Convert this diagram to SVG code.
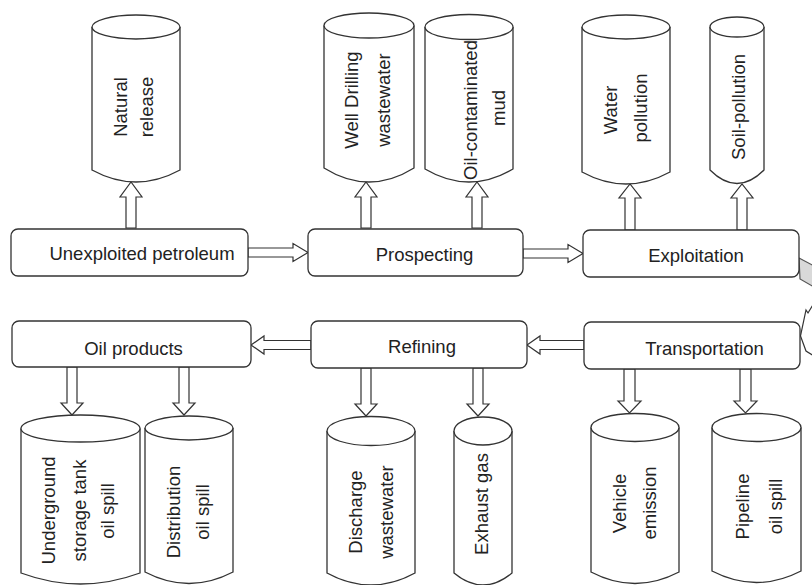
<svg xmlns="http://www.w3.org/2000/svg" width="812" height="585" viewBox="0 0 812 585">
<style>
.box{fill:#fff;stroke:#333;stroke-width:1.3}
.cyl{fill:#fff;stroke:#333;stroke-width:1.3}
.arr{fill:#fff;stroke:#333;stroke-width:1.2;stroke-linejoin:miter}
.t{font-family:"Liberation Sans",Arial,sans-serif;font-size:18.5px;fill:#222;text-anchor:middle}
</style>
<rect width="812" height="585" fill="#fff"/>
<g id="connectors">
<!-- horizontal arrows -->
<polygon class="arr" points="248,248 293,248 293,243.5 308,252.5 293,261.5 293,257 248,257"/>
<polygon class="arr" points="523,249 568,249 568,244.5 583,253.5 568,262.5 568,258 523,258"/>
<polygon class="arr" points="584,340.5 540,340.5 540,336 527,345 540,354 540,349.5 584,349.5"/>
<polygon class="arr" points="311,340.5 264,340.5 264,336 251,345 264,354 264,349.5 311,349.5"/>
<!-- up arrows -->
<polygon class="arr" points="126,228 126,197 120,197 131,182 142,197 136,197 136,228"/>
<polygon class="arr" points="361,228 361,197 355,197 366,182 377,197 371,197 371,228"/>
<polygon class="arr" points="472,228 472,197 466,197 477,182 488,197 482,197 482,228"/>
<polygon class="arr" points="625,230 625,198 619,198 630,184 641,198 635,198 635,230"/>
<polygon class="arr" points="737,230 737,198 731,198 742,184 753,198 747,198 747,230"/>
<!-- down arrows -->
<polygon class="arr" points="67,367 67,403 61,403 72,415 83,403 77,403 77,367"/>
<polygon class="arr" points="179,367 179,403 173,403 184,415 195,403 189,403 189,367"/>
<polygon class="arr" points="361,368 361,404 355,404 366,416 377,404 371,404 371,368"/>
<polygon class="arr" points="473,368 473,404 467,404 478,416 489,404 483,404 483,368"/>
<polygon class="arr" points="624,369 624,401 618,401 629.5,413 641,401 635,401 635,369"/>
<polygon class="arr" points="740,369 740,401 734,401 745.5,413 757,401 751,401 751,369"/>
<!-- curved arrow (partly off-canvas) -->
<path d="M799,258 L814,266 L814,287 L800,279 Z" fill="#d9d9d9" stroke="#555" stroke-width="1.2"/>
<path d="M814,303 L808,313 L806,310 L800.5,336 L806,351 L814,356" fill="#fff" stroke="#333" stroke-width="1.2"/>
</g>
<g id="n-unexploited">
<rect class="box" x="11" y="229" width="237" height="47" rx="7"/>
<text class="t" x="142" y="259.5">Unexploited petroleum</text>
</g>
<g id="n-prospecting">
<rect class="box" x="308" y="229" width="215" height="47" rx="7"/>
<text class="t" x="424.5" y="261">Prospecting</text>
</g>
<g id="n-exploitation">
<rect class="box" x="583" y="230" width="216" height="47" rx="7"/>
<text class="t" x="696" y="262">Exploitation</text>
</g>
<g id="n-oilproducts">
<rect class="box" x="12" y="321" width="239" height="46" rx="7"/>
<text class="t" x="133.5" y="355">Oil products</text>
</g>
<g id="n-refining">
<rect class="box" x="311" y="321" width="216" height="47" rx="7"/>
<text class="t" x="422" y="353">Refining</text>
</g>
<g id="n-transportation">
<rect class="box" x="584" y="322" width="216" height="47" rx="7"/>
<text class="t" x="704.5" y="355">Transportation</text>
</g>
<g id="c-natural">
<path class="cyl" d="M92,27 L92,170 Q136,194 180,170 L180,27"/>
<ellipse class="cyl" cx="136" cy="27" rx="44" ry="12"/>
<text class="t" transform="translate(127,107) rotate(-90)">Natural</text>
<text class="t" transform="translate(153,107) rotate(-90)">release</text>
</g>
<g id="c-welldrilling">
<path class="cyl" d="M324,25.5 L324,168 Q369,196 414,168 L414,25.5"/>
<ellipse class="cyl" cx="369" cy="25.5" rx="45" ry="12.5"/>
<text class="t" transform="translate(357.5,100) rotate(-90)">Well Drilling</text>
<text class="t" transform="translate(390,100) rotate(-90)">wastewater</text>
</g>
<g id="c-oilmud">
<path class="cyl" d="M425,27 L425,169 Q469,195 513,169 L513,27"/>
<ellipse class="cyl" cx="469" cy="27" rx="44" ry="12.5"/>
<text class="t" transform="translate(477,110) rotate(-90)">Oil-contaminated</text>
<text class="t" transform="translate(505,108) rotate(-90)">mud</text>
</g>
<g id="c-water">
<path class="cyl" d="M582,27 L582,172 Q626,196 670,172 L670,27"/>
<ellipse class="cyl" cx="626" cy="27" rx="44" ry="12"/>
<text class="t" transform="translate(617,110) rotate(-90)">Water</text>
<text class="t" transform="translate(647,108) rotate(-90)">pollution</text>
</g>
<g id="c-soil">
<path class="cyl" d="M710,27 L710,170 Q737,197 764,170 L764,27"/>
<ellipse class="cyl" cx="737" cy="27" rx="27" ry="10"/>
<text class="t" transform="translate(745,107) rotate(-90)">Soil-pollution</text>
</g>
<g id="c-underground">
<path class="cyl" d="M21,428.5 L21,573 Q80.5,595 140,573 L140,428.5"/>
<ellipse class="cyl" cx="80.5" cy="428.5" rx="59.5" ry="13.5"/>
<text class="t" transform="translate(55,510.5) rotate(-90)">Underground</text>
<text class="t" transform="translate(85.5,510.5) rotate(-90)">storage tank</text>
<text class="t" transform="translate(113.5,511) rotate(-90)">oil spill</text>
</g>
<g id="c-distribution">
<path class="cyl" d="M145,428 L145,572 Q189,595 233,572 L233,428"/>
<ellipse class="cyl" cx="189" cy="428" rx="44" ry="12"/>
<text class="t" transform="translate(180,512) rotate(-90)">Distribution</text>
<text class="t" transform="translate(209,512) rotate(-90)">oil spill</text>
</g>
<g id="c-discharge">
<path class="cyl" d="M327,431 L327,573 Q371,597 415,573 L415,431"/>
<ellipse class="cyl" cx="371" cy="431" rx="44" ry="14.5"/>
<text class="t" transform="translate(362,512) rotate(-90)">Discharge</text>
<text class="t" transform="translate(393,512) rotate(-90)">wastewater</text>
</g>
<g id="c-exhaust">
<path class="cyl" d="M454,431 L454,573 Q483,597 512,573 L512,431"/>
<ellipse class="cyl" cx="483" cy="431" rx="29" ry="14"/>
<text class="t" transform="translate(487.5,504) rotate(-90)">Exhaust gas</text>
</g>
<g id="c-vehicle">
<path class="cyl" d="M591,427.5 L591,572 Q635,595 679,572 L679,427.5"/>
<ellipse class="cyl" cx="635" cy="427.5" rx="44" ry="14"/>
<text class="t" transform="translate(626,503.5) rotate(-90)">Vehicle</text>
<text class="t" transform="translate(656,503) rotate(-90)">emission</text>
</g>
<g id="c-pipeline">
<path class="cyl" d="M712,427.5 L712,571 Q756.5,594 801,571 L801,427.5"/>
<ellipse class="cyl" cx="756.5" cy="427.5" rx="44.5" ry="14"/>
<text class="t" transform="translate(749,506.5) rotate(-90)">Pipeline</text>
<text class="t" transform="translate(781.5,506.5) rotate(-90)">oil spill</text>
</g>
</svg>
